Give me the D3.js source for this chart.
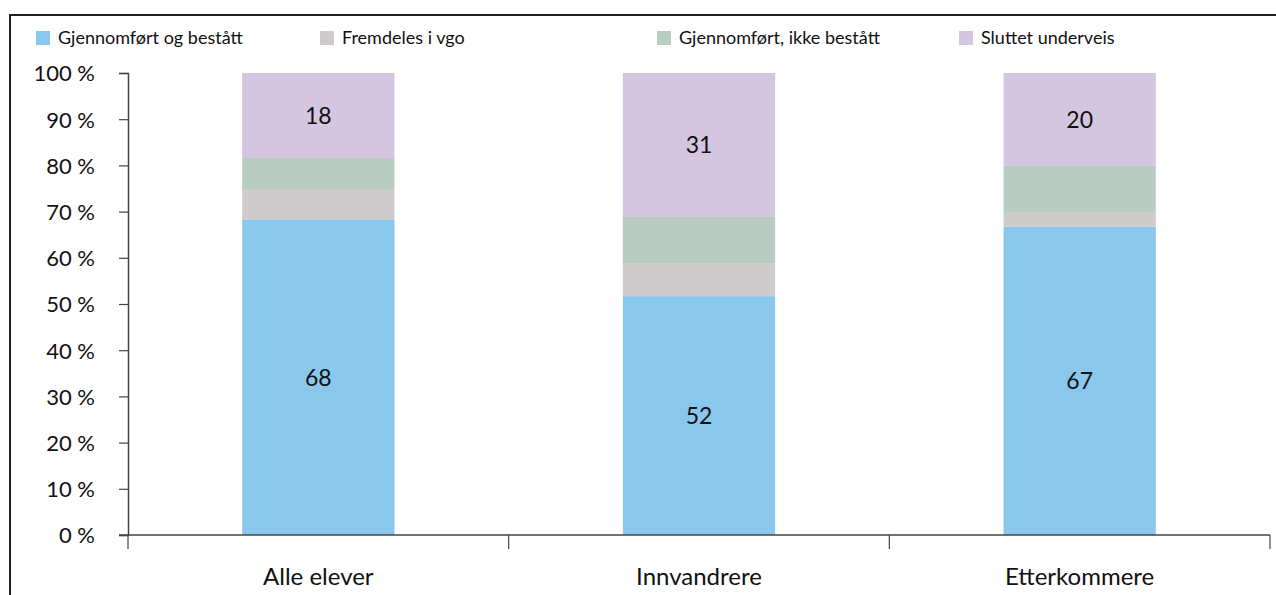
<!DOCTYPE html>
<html>
<head>
  <script src="https://d3js.org/d3.v7.min.js"></script>
  <style>
  body { margin: 0; background: #fff; }
  svg text { font-family: Lato, "Noto Sans", sans-serif; fill: #111; }
  </style>
</head>
<body>
  <script>
  var w = 1276;
  var h = 595;

  //Chart data
  var categories = ["Alle elever", "Innvandrere", "Etterkommere"];
  var seriesNames = ["Gjennomført og bestått", "Fremdeles i vgo", "Gjennomført, ikke bestått", "Sluttet underveis"];
  var bestatt = [68.2, 51.7, 66.7];
  var fremdeles = [6.5, 7.0, 3.2];
  var ikkeBestatt = [6.9, 10.3, 10.0];
  var sluttet = [18.4, 31.0, 20.1];
  var yTicks = [0, 10, 20, 30, 40, 50, 60, 70, 80, 90, 100];
  //Series that get a value label
  var labelled = [true, false, false, true];

  var colors = ["#8ac7ec", "#cfcbcc", "#b9ccc2", "#d4c5e0"];
  var legendX = [36, 320, 657, 959];

  var margin = {left: 128, right: 6, top: 73, bottom: 60};

  var svg = d3.select("body")
    .append("svg")
    .attr("width", w)
    .attr("height", h);

  //Frame around the chart (runs off the page at right and bottom)
  svg.append("rect")
    .attr("x", 10)
    .attr("y", 15)
    .attr("width", w)
    .attr("height", h)
    .attr("fill", "none")
    .attr("stroke", "#231f20")
    .attr("stroke-width", 2);

  var x = d3.scaleBand()
    .domain(categories)
    .range([margin.left, w - margin.right])
    .padding(0);

  var y = d3.scaleLinear()
    .domain([0, 100])
    .range([h - margin.bottom, margin.top]);

  //Build rows for stacking
  var rows = categories.map(function(c, i){
    return {cat: c, s0: bestatt[i], s1: fremdeles[i], s2: ikkeBestatt[i], s3: sluttet[i]};
  });
  var stack = d3.stack().keys(["s0", "s1", "s2", "s3"]);
  var layers = stack(rows);

  var barW = x.bandwidth() * 0.4;

  var g = svg.append("g");
  layers.forEach(function(layer, li){
    g.selectAll(".bar" + li)
      .data(layer)
      .enter()
      .append("rect")
        .attr("x", function(d){ return x(d.data.cat) + x.bandwidth() / 2 - barW / 2; })
        .attr("width", barW)
        .attr("y", function(d){ return y(d[1]); })
        .attr("height", function(d){ return y(d[0]) - y(d[1]); })
        .attr("fill", colors[li]);

    if(labelled[li]){
      g.selectAll(".lab" + li)
        .data(layer)
        .enter()
        .append("text")
          .attr("x", function(d){ return x(d.data.cat) + x.bandwidth() / 2; })
          .attr("y", function(d){ return (y(d[0]) + y(d[1])) / 2; })
          .attr("dy", "0.36em")
          .attr("text-anchor", "middle")
          .style("font-size", "23px")
          .text(function(d){ return Math.round(d[1] - d[0]); });
    }
  });

  //Y axis
  var yAxis = svg.append("g")
    .attr("transform", "translate(" + margin.left + ",0)")
    .call(d3.axisLeft(y).tickValues(yTicks).tickSize(9).tickPadding(24)
      .tickFormat(function(d){ return d + " %"; }));
  yAxis.selectAll("text").style("font-size", "22px").attr("dy", "0.36em");

  //X axis with ticks between categories
  var xAxis = svg.append("g")
    .attr("transform", "translate(0," + y(0) + ")");
  xAxis.append("line")
    .attr("x1", margin.left - 9)
    .attr("x2", w - margin.right)
    .attr("stroke", "#444")
    .attr("stroke-width", 1.5);
  var bounds = categories.map(function(c){ return x(c); }).concat([x(categories[categories.length - 1]) + x.bandwidth()]);
  xAxis.selectAll(".xt")
    .data(bounds)
    .enter()
    .append("line")
      .attr("x1", function(d){ return d; })
      .attr("x2", function(d){ return d; })
      .attr("y1", 0)
      .attr("y2", 14)
      .attr("stroke", "#444")
      .attr("stroke-width", 1.2);
  xAxis.selectAll(".xl")
    .data(categories)
    .enter()
    .append("text")
      .attr("x", function(d){ return x(d) + x.bandwidth() / 2; })
      .attr("y", 50)
      .attr("text-anchor", "middle")
      .style("font-size", "24px")
      .text(function(d){ return d; });

  yAxis.select(".domain").attr("stroke", "#444").attr("stroke-width", 1.5);
  yAxis.selectAll(".tick line").attr("stroke", "#444").attr("stroke-width", 1.2);

  //Legend
  var legend = svg.append("g");
  var items = legend.selectAll("g")
    .data(seriesNames)
    .enter()
    .append("g")
      .attr("transform", function(d, i){ return "translate(" + legendX[i] + ",31)"; });
  items.append("rect")
    .attr("width", 14)
    .attr("height", 14)
    .attr("fill", function(d, i){ return colors[i]; });
  items.append("text")
    .attr("x", 22)
    .attr("y", 7)
    .attr("dy", "0.36em")
    .style("font-size", "18px")
    .text(function(d){ return d; });
  </script>
</body>
</html>
